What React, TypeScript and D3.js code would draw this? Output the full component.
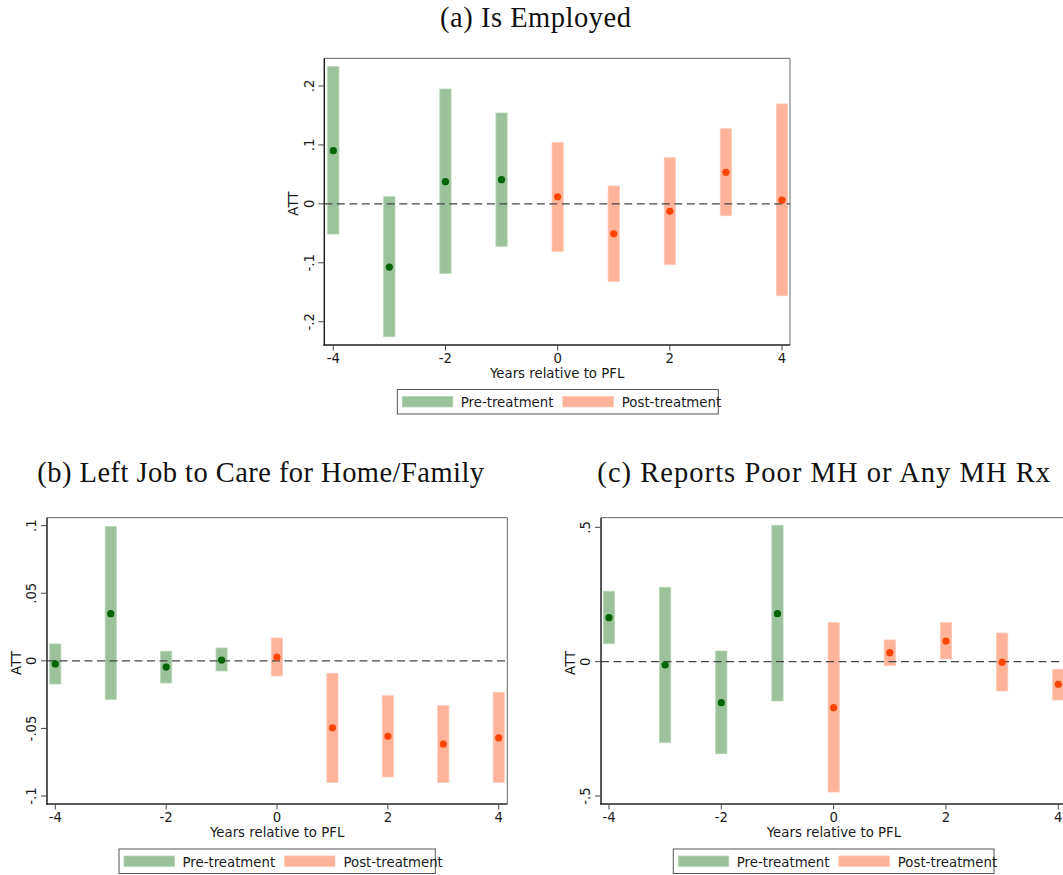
import React from 'react';
import * as d3 from 'd3';

const years = [-4, -3, -2, -1, 0, 1, 2, 3, 4];
const xTicks = [-4, -2, 0, 2, 4];
const xTickLabels = ['-4', '-2', '0', '2', '4'];

// Panel (a) Is Employed
const aEst = [0.0902, -0.1072, 0.0376, 0.041, 0.0121, -0.0507, -0.0126, 0.0535, 0.0065];
const aLo = [-0.0512, -0.2255, -0.1179, -0.072, -0.0805, -0.1314, -0.1026, -0.0201, -0.1559];
const aHi = [0.2328, 0.0121, 0.1949, 0.1542, 0.1038, 0.0303, 0.0783, 0.1275, 0.1695];
const aYTicks = [-0.2, -0.1, 0, 0.1, 0.2];
const aYTickLabels = ['-.2', '-.1', '0', '.1', '.2'];

// Panel (b) Left Job to Care for Home/Family
const bEst = [-0.0023, 0.0349, -0.0046, 0.0006, 0.0028, -0.0495, -0.0558, -0.0615, -0.0569];
const bLo = [-0.0171, -0.0285, -0.0164, -0.0075, -0.0112, -0.0899, -0.0859, -0.0899, -0.0899];
const bHi = [0.0125, 0.0993, 0.0071, 0.0095, 0.0169, -0.0092, -0.0258, -0.0332, -0.0233];
const bYTicks = [-0.1, -0.05, 0, 0.05, 0.1];
const bYTickLabels = ['-.1', '-.05', '0', '.05', '.1'];

// Panel (c) Reports Poor MH or Any MH Rx
const cEst = [0.1636, -0.0125, -0.1528, 0.1785, -0.1714, 0.0333, 0.0769, -0.0024, -0.0843];
const cLo = [0.0668, -0.3016, -0.3426, -0.1464, -0.4851, -0.0151, 0.0099, -0.1092, -0.1427];
const cHi = [0.2618, 0.2767, 0.0396, 0.5074, 0.145, 0.0806, 0.145, 0.1066, -0.0285];
const cYTicks = [-0.5, 0, 0.5];
const cYTickLabels = ['-.5', '0', '.5'];

const legendLabels = ['Pre-treatment', 'Post-treatment'];
const titles = ['(a) Is Employed', '(b) Left Job to Care for Home/Family', '(c) Reports Poor MH or Any MH Rx'];
const xLabel = 'Years relative to PFL';
const yLabel = 'ATT';

const PRE_BAR = '#9bc29b';
const POST_BAR = '#ffb399';
const PRE_PT = '#006400';
const POST_PT = '#ff4500';
const SANS = '"DejaVu Sans", sans-serif';
const SERIF = '"Liberation Serif", serif';
const FS = 13.3;

type PanelProps = {
  left: number; top: number; right: number; bottom: number;
  xDomain: [number, number]; yDomain: [number, number];
  est: number[]; lo: number[]; hi: number[];
  yTicks: number[]; yTickLabels: string[];
  legend: { left: number; top: number; width: number };
};

function Panel(p: PanelProps) {
  const x = d3.scaleLinear().domain(p.xDomain).range([p.left, p.right]);
  const y = d3.scaleLinear().domain(p.yDomain).range([p.bottom, p.top]);
  const bw = x(0.1) - x(-0.1);
  const isPre = (yr: number) => yr < 0;
  const L = p.legend;
  const lh = 24.5;
  return (
    <g>
      {years.map((yr, i) => (
        <rect key={'b' + i} x={x(yr) - bw / 2} y={y(p.hi[i])} width={bw}
          height={y(p.lo[i]) - y(p.hi[i])}
          fill={isPre(yr) ? PRE_BAR : POST_BAR}
          stroke={isPre(yr) ? '#b4d4b4' : '#ffc6b3'} strokeWidth={0.8} />
      ))}
      <line x1={p.left} x2={p.right} y1={y(0)} y2={y(0)} stroke="#444" strokeWidth={1.3} strokeDasharray="8,4.5" />
      {years.map((yr, i) => (
        <circle key={'p' + i} cx={x(yr)} cy={y(p.est[i])} r={3.6} fill={isPre(yr) ? PRE_PT : POST_PT} />
      ))}
      {/* frame */}
      <line x1={p.left} x2={p.right} y1={p.top} y2={p.top} stroke="#666" strokeWidth={1} />
      <line x1={p.right} x2={p.right} y1={p.top} y2={p.bottom} stroke="#666" strokeWidth={1} />
      <line x1={p.left} x2={p.left} y1={p.top} y2={p.bottom + 0.75} stroke="#222" strokeWidth={1.5} />
      <line x1={p.left - 0.75} x2={p.right} y1={p.bottom} y2={p.bottom} stroke="#222" strokeWidth={1.5} />
      {/* y ticks */}
      {p.yTicks.map((t, i) => (
        <g key={'yt' + i}>
          <line x1={p.left} x2={p.left - 6} y1={y(t)} y2={y(t)} stroke="#444" strokeWidth={1} />
          <text transform={`translate(${p.left - 10.6},${y(t)}) rotate(-90)`} textAnchor="middle"
            fontFamily={SANS} fontSize={FS} fill="#1a1a1a">{p.yTickLabels[i]}</text>
        </g>
      ))}
      <text transform={`translate(${p.left - 26.2},${(p.top + p.bottom) / 2 + 2}) rotate(-90)`} textAnchor="middle"
        fontFamily={SANS} fontSize={FS} fill="#1a1a1a">{yLabel}</text>
      {/* x ticks */}
      {xTicks.map((t, i) => (
        <g key={'xt' + i}>
          <line x1={x(t)} x2={x(t)} y1={p.bottom} y2={p.bottom + 5.5} stroke="#444" strokeWidth={1} />
          <text x={x(t)} y={p.bottom + 17.8} textAnchor="middle" fontFamily={SANS} fontSize={FS} fill="#1a1a1a">
            {xTickLabels[i]}
          </text>
        </g>
      ))}
      <text x={(p.left + Math.min(p.right, x(4) + 8.6)) / 2} y={p.bottom + 32.8} textAnchor="middle"
        fontFamily={SANS} fontSize={FS} fill="#1a1a1a">{xLabel}</text>
      {/* legend */}
      <rect x={L.left} y={L.top} width={L.width} height={lh} fill="#fff" stroke="#555" strokeWidth={1} />
      <rect x={L.left + 5} y={L.top + 7} width={50.5} height={10.5} fill={PRE_BAR} stroke="#b4d4b4" strokeWidth={0.8} />
      <text x={L.left + 63.5} y={L.top + 17.6} fontFamily={SANS} fontSize={FS} fill="#1a1a1a">{legendLabels[0]}</text>
      <rect x={L.left + 165.5} y={L.top + 7} width={50.5} height={10.5} fill={POST_BAR} stroke="#ffc6b3" strokeWidth={0.8} />
      <text x={L.left + 224.5} y={L.top + 17.6} fontFamily={SANS} fontSize={FS} fill="#1a1a1a">{legendLabels[1]}</text>
    </g>
  );
}

export default function App() {
  return (
    <svg width={1063} height={875} style={{ position: 'absolute', left: 0, top: 0, background: '#fff' }}>
      <rect x={0} y={0} width={1063} height={875} fill="#fff" />
      <text x={535.5} y={27} textAnchor="middle" fontFamily={SERIF} fontSize={28.5} fill="#111"
        textLength={191} lengthAdjust="spacing">{titles[0]}</text>
      <text x={260.7} y={481.7} textAnchor="middle" fontFamily={SERIF} fontSize={28.5} fill="#111"
        textLength={446.7} lengthAdjust="spacing">{titles[1]}</text>
      <text x={823.7} y={481.7} textAnchor="middle" fontFamily={SERIF} fontSize={28.5} fill="#111"
        textLength={452.7} lengthAdjust="spacing">{titles[2]}</text>
      <Panel left={324.3} top={58.3} right={790} bottom={345}
        xDomain={[-4.16, 4.143]} yDomain={[-0.2395, 0.247]}
        est={aEst} lo={aLo} hi={aHi} yTicks={aYTicks} yTickLabels={aYTickLabels}
        legend={{ left: 397.3, top: 389.5, width: 321 }} />
      <Panel left={47} top={517.7} right={507.3} bottom={804}
        xDomain={[-4.15, 4.155]} yDomain={[-0.1059, 0.1059]}
        est={bEst} lo={bLo} hi={bHi} yTicks={bYTicks} yTickLabels={bYTickLabels}
        legend={{ left: 119, top: 849, width: 316.3 }} />
      <Panel left={601} top={517.7} right={1067} bottom={804}
        xDomain={[-4.142, 4.155]} yDomain={[-0.5298, 0.5357]}
        est={cEst} lo={cLo} hi={cHi} yTicks={cYTicks} yTickLabels={cYTickLabels}
        legend={{ left: 673.3, top: 849, width: 320.7 }} />
    </svg>
  );
}
